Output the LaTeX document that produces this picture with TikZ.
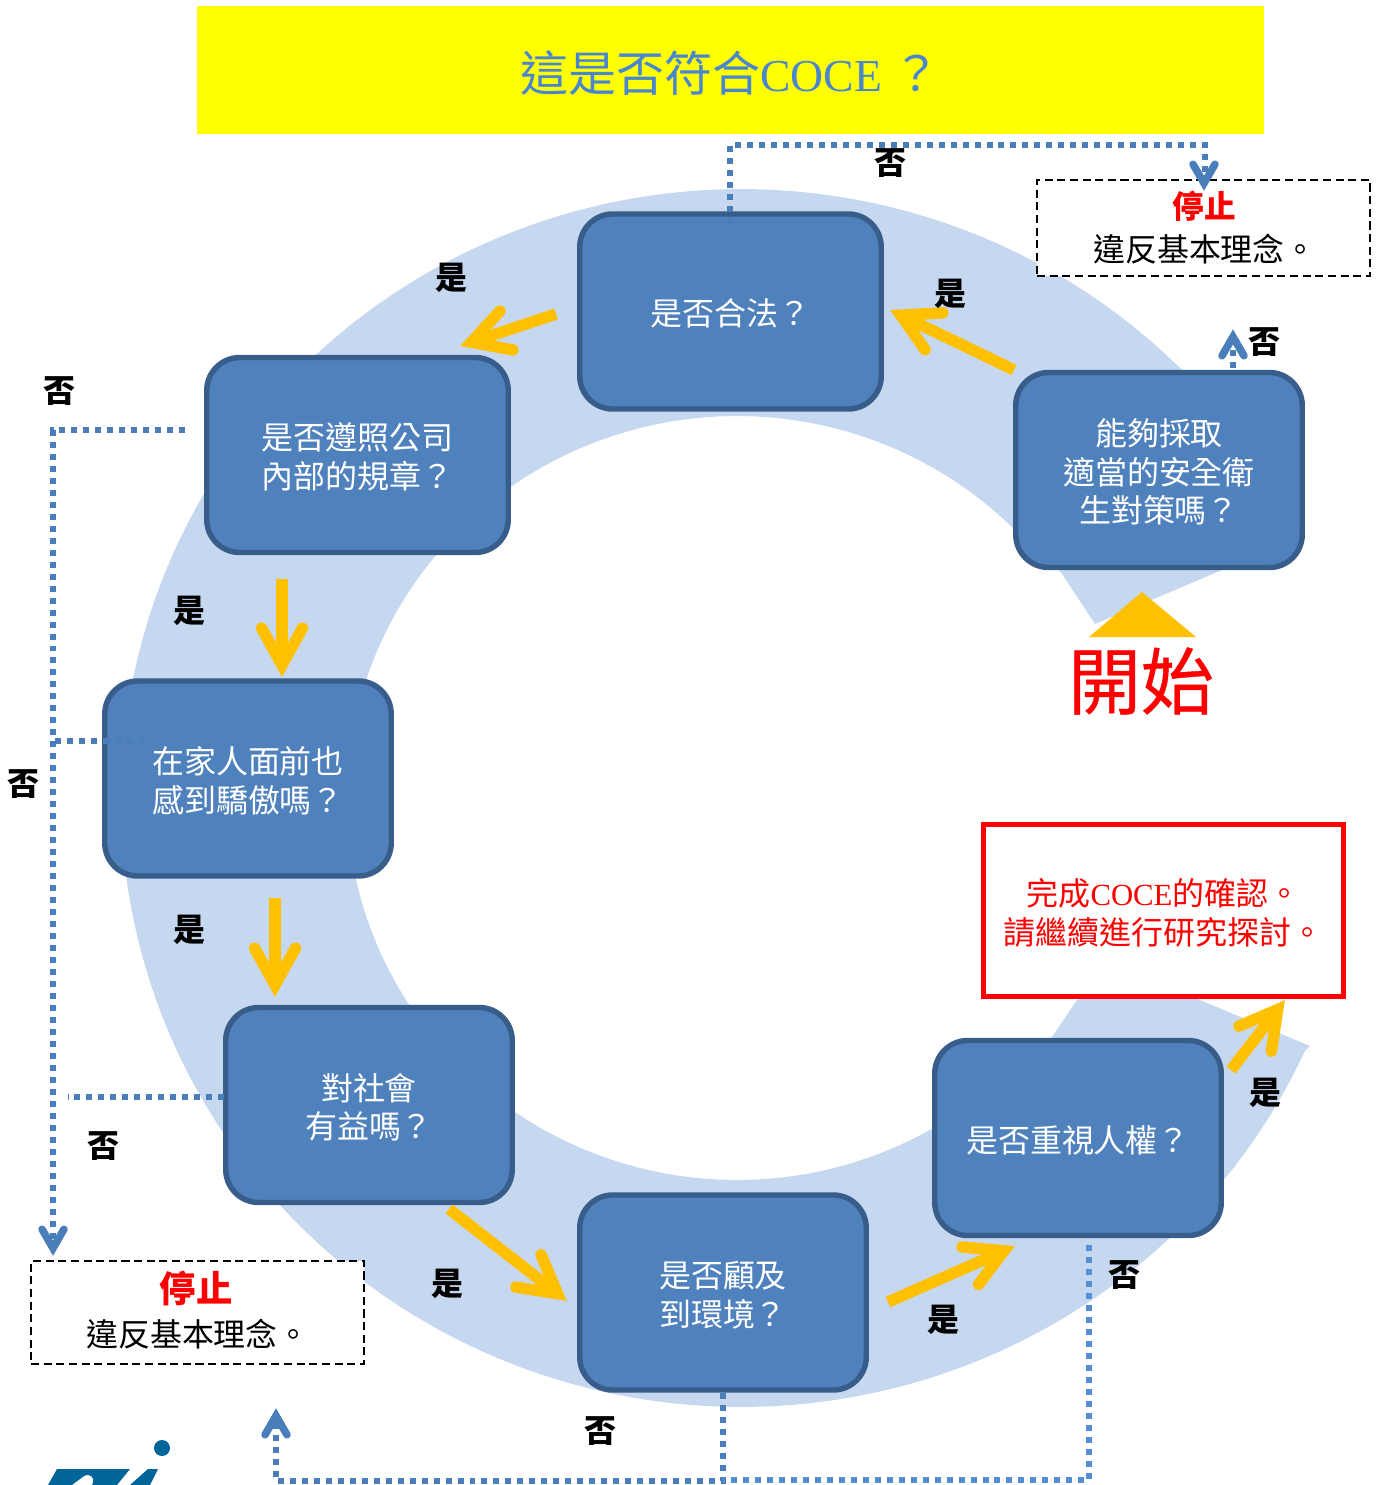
\documentclass[tikz,border=0pt]{standalone}
\usepackage{fontspec}
\setmainfont{Noto Sans CJK TC}
\newfontfamily\latf{Liberation Serif}
\newfontfamily\startf[FakeBold=0.5]{Noto Sans CJK TC}
\usetikzlibrary{calc}
\definecolor{ringc}{HTML}{C6D8F0}
\definecolor{boxf}{HTML}{4F81BD}
\definecolor{boxs}{HTML}{385D8A}
\definecolor{dotc}{HTML}{4A7EBB}
\definecolor{orangec}{HTML}{FFC000}
\definecolor{titlec}{HTML}{4A86D0}
\definecolor{lightblue}{HTML}{558ED5}
\definecolor{logoc}{HTML}{006699}
\definecolor{yellowc}{HTML}{FFFF00}
\definecolor{redc}{HTML}{FF0000}
% #1 tail side, #2 tip, #3 colour, #4 width, #5 inset, #6 wing length, #7 half angle
\newcommand{\openwings}[7]{%
  \coordinate (v) at ($(#2)!#5!(#1)$);
  \draw[#3,line width=#4,line cap=round,line join=miter,miter limit=20]
    ($(v)!#6!#7:(#1)$) -- (v) -- ($(v)!#6!-#7:(#1)$);
}
\newcommand{\yarrow}[2]{%
  \coordinate (vs) at ($(#2)!6.8pt!(#1)$);
  \draw[orangec,line width=6.5pt,line cap=butt] (#1) -- (vs);
  \openwings{#1}{#2}{orangec}{6.5pt}{6.8pt}{24pt}{29}}
\newcommand{\bhead}[2]{\openwings{#1}{#2}{dotc}{4.3pt}{5pt}{12.5pt}{30}}
\newcommand{\bt}[1]{\raisebox{-8.1pt}[0pt][0pt]{\begin{tabular}{@{}c@{}}#1\end{tabular}}}
\tikzset{
  stepbox/.style={draw=boxs,fill=boxf,line width=3.1pt,rounded corners=0.66cm,
    minimum height=195*0.02cm,inner sep=0pt,text=white,
    font=\fontsize{18.2}{21.9}\selectfont},
  dotline/.style={draw=dotc,line width=3.4pt,dash pattern=on 3.41pt off 3.41pt},
  dotlight/.style={dotline,draw=lightblue},
  yn/.style={font=\fontsize{18.2}{20}\selectfont\bfseries,text=black,inner sep=0pt},
  stopbox/.style={draw=black,line width=1.3pt,dash pattern=on 4.6pt off 2.6pt,fill=white,inner sep=0pt},
  plain/.style={inner sep=0pt,align=center},
}
\begin{document}
\begin{tikzpicture}[x=0.02cm,y=-0.02cm]
\useasboundingbox (0,0) rectangle (1379,1485);
% ring
\fill[ringc]
  plot[domain=40:312,samples=140] ({737+390*cos(\x)},{798-382*sin(\x)})
  -- (1052,1037) -- (1077,1000) -- (1150,975) -- (1200,1000) -- (1310,1046)
  -- plot[domain=0:1,samples=160] ({741+620*cos(335.5-292.5*\x)},{798-609*sin(335.5-292.5*\x)})
  -- (1222,570) -- (1095,624) -- (1060,571) -- cycle;
% title
\node[fill=yellowc,minimum width=1067*0.02cm,minimum height=128*0.02cm,inner sep=0pt,
  text=titlec,font=\fontsize{27.3}{30}\selectfont] (title) at (730.5,70)
  {\raisebox{-12.1pt}[0pt][0pt]{這是否符合{\latf\fontsize{26}{30}\selectfont COCE} ？}};
% stop boxes
\node[stopbox,minimum width=333*0.02cm,minimum height=96*0.02cm] (stopa) at (1203.5,228) {};
\node[stopbox,minimum width=333*0.02cm,minimum height=103*0.02cm] (stopb) at (197.5,1312.5) {};
\node[plain,text=redc,font=\fontsize{18}{20}\selectfont\bfseries] (stopat) at (1204,206) {停止};
\node[plain,font=\fontsize{18.2}{20}\selectfont] (stopad) at (1205,249) {違反基本理念。};
\node[plain,text=redc,font=\fontsize{20.7}{22}\selectfont\bfseries] (stopbt) at (196,1288) {停止};
\node[plain,font=\fontsize{18.2}{20}\selectfont] (stopbd) at (198,1334) {違反基本理念。};
% finish box
\node[draw=redc,fill=white,line width=2.3pt,minimum width=360*0.02cm,minimum height=172*0.02cm,
  inner sep=0pt,text=redc,font=\fontsize{18.2}{21.9}\selectfont] (done) at (1163.5,910.5)
  {\bt{完成{\latf\fontsize{17.5}{21.9}\selectfont COCE}的確認。\\請繼續進行研究探討。}};
% steps
\node[stepbox,minimum width=301.5*0.02cm] (s1) at (730.5,311.5) {\bt{是否合法？}};
\node[stepbox,minimum width=301.5*0.02cm] (s2) at (357.5,455) {\bt{是否遵照公司\\內部的規章？}};
\node[stepbox,minimum width=286.5*0.02cm] (s3) at (248,778.5) {\bt{在家人面前也\\感到驕傲嗎？}};
\node[stepbox,minimum width=286.5*0.02cm] (s4) at (369,1105) {\bt{對社會\\有益嗎？}};
\node[stepbox,minimum width=286.5*0.02cm] (s5) at (723,1292.5) {\bt{是否顧及\\到環境？}};
\node[stepbox,minimum width=286.5*0.02cm] (s6) at (1078,1138) {\bt{是否重視人權？}};
\node[stepbox,minimum width=286.5*0.02cm] (s7) at (1159,470) {\bt{能夠採取\\適當的安全衛\\生對策嗎？}};
% start
\fill[orangec] (1089,637) -- (1142,592) -- (1196,637) -- cycle;
\node[plain,text=redc,font=\fontsize{41.5}{44}\selectfont\startf] (start) at (1141,681) {開始};
% yes arrows
\coordinate (a1s) at (1014,370); \coordinate (a1e) at (890,310);
\coordinate (a2s) at (556,314); \coordinate (a2e) at (460,346);
\coordinate (a3s) at (282,579); \coordinate (a3e) at (282,677);
\coordinate (a4s) at (275,898); \coordinate (a4e) at (275,997);
\coordinate (a5s) at (449,1209); \coordinate (a5e) at (567,1301);
\coordinate (a6s) at (888,1302); \coordinate (a6e) at (1015,1246);
\coordinate (a7s) at (1231,1070); \coordinate (a7e) at (1285,1000);
\yarrow{a1s}{a1e}\yarrow{a2s}{a2e}\yarrow{a3s}{a3e}\yarrow{a4s}{a4e}
\yarrow{a5s}{a5e}\yarrow{a6s}{a6e}\yarrow{a7s}{a7e}
% no lines
\coordinate (n1a) at (730,224); \coordinate (n1b) at (730,145);
\coordinate (n1c) at (1205,145); \coordinate (n1d) at (1204,192);
\draw[dotline] (n1a) -- (n1b) -- (n1c) -- ($(n1d)+(1,-13)$);
\bhead{$(n1d)+(0,-30)$}{n1d}
\coordinate (n2a) at (1233,368); \coordinate (n2b) at (1233,328);
\draw[dotline] (n2a) -- ($(n2b)+(0,17)$);
\bhead{$(n2b)+(0,26)$}{n2b}
\coordinate (n3a) at (185,430); \coordinate (n3b) at (53,430); \coordinate (n3c) at (53,1257);
\draw[dotline] (n3a) -- (n3b) -- ($(n3c)+(0,-14)$);
\bhead{$(n3c)+(0,-30)$}{n3c}
\coordinate (n4a) at (145,741); \coordinate (n4b) at (53,741);
\draw[dotline] (n4a) -- (n4b);
\coordinate (n5a) at (224,1097); \coordinate (n5b) at (68,1097);
\draw[dotline] (n5a) -- (n5b);
\coordinate (n6a) at (723,1393); \coordinate (n6b) at (723,1481);
\coordinate (n6c) at (276,1481); \coordinate (n6d) at (276,1407);
\draw[dotline] (n6a) -- (n6b) -- (n6c) -- ($(n6d)+(0,15)$);
\bhead{$(n6d)+(0,30)$}{n6d}
\coordinate (n7a) at (1089,1245); \coordinate (n7b) at (1089,1480); \coordinate (n7c) at (723,1480);
\draw[dotlight] (n7a) -- (n7b) -- (n7c);
% labels
\node[yn] (l1) at (890,163) {否};
\node[yn] (l2) at (451,278) {是};
\node[yn] (l3) at (950,294) {是};
\node[yn] (l4) at (1264,342) {否};
\node[yn] (l5) at (59,391) {否};
\node[yn] (l6) at (189,611) {是};
\node[yn] (l7) at (23,784) {否};
\node[yn] (l8) at (189,930) {是};
\node[yn] (l9) at (103,1146) {否};
\node[yn] (l10) at (447,1284) {是};
\node[yn] (l11) at (600,1431) {否};
\node[yn] (l12) at (943,1320) {是};
\node[yn] (l13) at (1124,1275) {否};
\node[yn] (l14) at (1265,1093) {是};
% logo
\fill[logoc] (162,1448) circle (8);
\fill[logoc] (48,1485) -- (57,1469) -- (130,1469) -- (117,1485) -- (92,1485)
  .. controls (96,1477) and (90,1473) .. (84,1476) -- (72,1485) -- cycle;
\fill[logoc] (148,1469) -- (158,1469) -- (150,1485) -- (130,1485) -- cycle;
\end{tikzpicture}
\end{document}
